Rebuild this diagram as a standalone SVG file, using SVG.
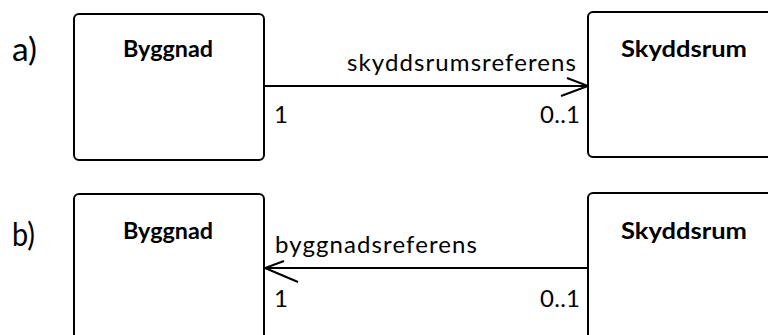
<svg xmlns="http://www.w3.org/2000/svg" width="768" height="335" viewBox="0 0 768 335">
<style>
.box{fill:#fff;stroke:#000;stroke-width:2}
.conn{fill:none;stroke:#000;stroke-width:2}
.head{fill:none;stroke:#000;stroke-width:2;stroke-linecap:butt}
.name{font-family:Lato,"Liberation Sans",sans-serif;font-weight:bold;font-size:22px;fill:#000}
.lbl{font-family:Lato,"Liberation Sans",sans-serif;font-size:24px;fill:#000}
.tag{font-family:Lato,"Liberation Sans",sans-serif;font-size:32px;fill:#000}
</style>
<rect width="768" height="335" fill="#fff"/>
<text class="tag" x="12" y="61" textLength="25" lengthAdjust="spacingAndGlyphs">a)</text>
<text class="tag" x="12" y="246" textLength="23" lengthAdjust="spacingAndGlyphs">b)</text>
<g id="connectors">
  <g id="conn-a">
    <line class="conn" x1="264" y1="86" x2="588" y2="86"/>
    <polyline class="head" points="567,78 588,86 561,96"/>
    <text class="lbl" x="347" y="71" textLength="229" lengthAdjust="spacing">skyddsrumsreferens</text>
    <text class="lbl" x="274" y="123">1</text>
    <text class="lbl" x="580" y="123" text-anchor="end" textLength="40" lengthAdjust="spacing">0..1</text>
  </g>
  <g id="conn-b">
    <line class="conn" x1="264" y1="268" x2="588" y2="268"/>
    <polyline class="head" points="284,261 265,268 298,282"/>
    <text class="lbl" x="275" y="253" textLength="202" lengthAdjust="spacing">byggnadsreferens</text>
    <text class="lbl" x="274" y="307">1</text>
    <text class="lbl" x="580" y="307" text-anchor="end" textLength="40" lengthAdjust="spacing">0..1</text>
  </g>
</g>
<g id="byggnad-a">
  <rect class="box" x="74" y="14" width="190" height="146" rx="5"/>
  <text class="name" x="168" y="57" text-anchor="middle" textLength="90" lengthAdjust="spacingAndGlyphs">Byggnad</text>
</g>
<g id="skyddsrum-a">
  <rect class="box" x="588" y="12" width="220" height="145" rx="5"/>
  <text class="name" x="621" y="57" textLength="126" lengthAdjust="spacingAndGlyphs">Skyddsrum</text>
</g>
<g id="byggnad-b">
  <rect class="box" x="74" y="194" width="190" height="180" rx="5"/>
  <text class="name" x="168" y="239" text-anchor="middle" textLength="90" lengthAdjust="spacingAndGlyphs">Byggnad</text>
</g>
<g id="skyddsrum-b">
  <rect class="box" x="588" y="193" width="220" height="180" rx="5"/>
  <text class="name" x="621" y="239" textLength="126" lengthAdjust="spacingAndGlyphs">Skyddsrum</text>
</g>
</svg>
